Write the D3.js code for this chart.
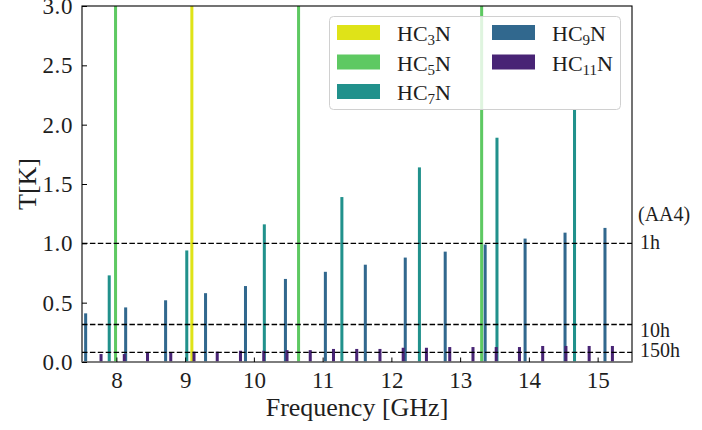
<!DOCTYPE html>
<html>
<head>
<meta charset="utf-8">
<script src="https://cdn.jsdelivr.net/npm/d3@7"></script>
<style>
  html, body { margin: 0; padding: 0; background: #fff; }
  svg { display: block; font-family: "Liberation Serif", "DejaVu Serif", serif; }
</style>
</head>
<body>
<svg id="chart" width="702" height="430"></svg>
<script>
// Cyanopolyyne rotational lines: frequency [GHz] and expected brightness T [K]
const hc3nFreq = [9.098];
const hc3nT    = [4.8];

const hc5nFreq = [7.988, 10.650, 13.313];
const hc5nT    = [3.9, 4.6, 4.2];

const hc7nFreq = [7.896, 9.024, 10.152, 11.280, 12.408, 13.536, 14.664];
const hc7nT    = [0.73, 0.94, 1.16, 1.39, 1.64, 1.89, 2.13];

const hc9nFreq = [7.553, 8.135, 8.716, 9.297, 9.878, 10.459, 11.040,
                  11.621, 12.202, 12.783, 13.364, 13.945, 14.526, 15.107];
const hc9nT    = [0.41, 0.46, 0.52, 0.58, 0.64, 0.70, 0.76,
                  0.82, 0.88, 0.93, 0.99, 1.04, 1.09, 1.13];

const hc11nFreq = [7.777, 8.115, 8.453, 8.791, 9.129, 9.467, 9.805, 10.144,
                   10.482, 10.820, 11.158, 11.496, 11.834, 12.172, 12.510,
                   12.849, 13.187, 13.525, 13.863, 14.201, 14.539, 14.877, 15.215];
const hc11nT    = [0.067, 0.067, 0.078, 0.078, 0.087, 0.087, 0.095, 0.095,
                   0.10, 0.10, 0.11, 0.11, 0.11, 0.12, 0.12,
                   0.126, 0.126, 0.126, 0.126, 0.135, 0.135, 0.135, 0.135];

// Sensitivity levels (AA4) for the given integration times
const sensLabels = ["1h", "10h", "150h"];
const sensLevels = [1.0, 0.316, 0.0816];

const xTicks = [8, 9, 10, 11, 12, 13, 14, 15];
const yTicks = [0.0, 0.5, 1.0, 1.5, 2.0, 2.5, 3.0];

const seriesNames  = ["3", "5", "7", "9", "11"];
const seriesColors = ["#dfe318", "#5ec962", "#21918c", "#31688e", "#482475"];

const series = [
  { sub: seriesNames[0], color: seriesColors[0], freq: hc3nFreq,  T: hc3nT },
  { sub: seriesNames[1], color: seriesColors[1], freq: hc5nFreq,  T: hc5nT },
  { sub: seriesNames[2], color: seriesColors[2], freq: hc7nFreq,  T: hc7nT },
  { sub: seriesNames[3], color: seriesColors[3], freq: hc9nFreq,  T: hc9nT },
  { sub: seriesNames[4], color: seriesColors[4], freq: hc11nFreq, T: hc11nT }
];

const textColor = "#1e1e1e";
const svg = d3.select("#chart");
const plot = { left: 82, right: 632, top: 6, bottom: 362 };

const x = d3.scaleLinear().domain([7.5, 15.5]).range([plot.left, plot.right]);
const y = d3.scaleLinear().domain([0, 3]).range([plot.bottom, plot.top]);
const barW = x(7.5 + 0.044) - x(7.5);

svg.append("defs").append("clipPath").attr("id", "plotClip")
  .append("rect")
  .attr("x", plot.left).attr("y", plot.top)
  .attr("width", plot.right - plot.left).attr("height", plot.bottom - plot.top);

// Bars
const barLayer = svg.append("g").attr("clip-path", "url(#plotClip)");
series.forEach(s => {
  barLayer.append("g").selectAll("rect")
    .data(s.freq.map((f, i) => ({ f, t: s.T[i] })))
    .join("rect")
    .attr("x", d => x(d.f) - barW / 2)
    .attr("y", d => y(d.t))
    .attr("width", barW)
    .attr("height", d => y(0) - y(d.t))
    .attr("fill", s.color);
});

// Sensitivity lines
svg.append("g").selectAll("line")
  .data(sensLevels)
  .join("line")
  .attr("x1", plot.left).attr("x2", plot.right)
  .attr("y1", d => y(d)).attr("y2", d => y(d))
  .attr("stroke", "#000")
  .attr("stroke-width", 1.3)
  .attr("stroke-dasharray", "5.5,2.4");

// Frame
svg.append("rect")
  .attr("x", plot.left).attr("y", plot.top)
  .attr("width", plot.right - plot.left).attr("height", plot.bottom - plot.top)
  .attr("fill", "none").attr("stroke", "#000").attr("stroke-width", 1.1);

// Zero line
svg.append("line")
  .attr("x1", plot.left).attr("x2", plot.right)
  .attr("y1", y(0)).attr("y2", y(0))
  .attr("stroke", "#808080").attr("stroke-width", 1.6);

// Y axis (inward ticks)
const yAxis = d3.axisLeft(y).tickValues(yTicks).tickFormat(d3.format(".1f"))
  .tickSizeInner(-5).tickSizeOuter(0).tickPadding(9);
const gy = svg.append("g").attr("transform", `translate(${plot.left},0)`).call(yAxis);
gy.select(".domain").remove();
gy.selectAll(".tick line").attr("stroke", "#000").attr("stroke-width", 1);
gy.selectAll(".tick text")
  .attr("font-family", "Liberation Serif, serif")
  .attr("font-size", 23).attr("letter-spacing", 0.6).attr("fill", textColor);

// X axis (inward ticks)
const xAxis = d3.axisBottom(x).tickValues(xTicks).tickFormat(d3.format("d"))
  .tickSizeInner(-4.5).tickSizeOuter(0).tickPadding(10);
const gx = svg.append("g").attr("transform", `translate(0,${plot.bottom})`).call(xAxis);
gx.select(".domain").remove();
gx.selectAll(".tick line").attr("stroke", "#000").attr("stroke-width", 1);
gx.selectAll(".tick text")
  .attr("font-family", "Liberation Serif, serif")
  .attr("font-size", 23).attr("fill", textColor);

// Axis titles
svg.append("text")
  .attr("x", (plot.left + plot.right) / 2).attr("y", 416)
  .attr("text-anchor", "middle").attr("font-size", 26).attr("fill", textColor)
  .text("Frequency [GHz]");

svg.append("text")
  .attr("transform", `translate(36,${(plot.top + plot.bottom) / 2}) rotate(-90)`)
  .attr("text-anchor", "middle").attr("font-size", 26).attr("fill", textColor)
  .text("T[K]");

// Sensitivity annotations on the right
const labelOffsets = [6, 12, 5];
svg.append("g").selectAll("text")
  .data(sensLevels)
  .join("text")
  .attr("x", 640)
  .attr("y", (d, i) => y(d) + labelOffsets[i])
  .attr("font-size", 20).attr("fill", textColor)
  .text((d, i) => sensLabels[i]);
svg.append("text")
  .attr("x", 638).attr("y", y(sensLevels[0]) - 22)
  .attr("font-size", 20).attr("fill", textColor)
  .text("(AA4)");

// Legend
const legend = svg.append("g");
legend.append("rect")
  .attr("x", 329.5).attr("y", 16.5).attr("width", 291).attr("height", 93)
  .attr("rx", 4).attr("ry", 4)
  .attr("fill", "#fff").attr("fill-opacity", 0.8)
  .attr("stroke", "#d0d0d0").attr("stroke-width", 1);

const perCol = 3, colX = [337, 492], rowY = [25, 54.5, 84];
series.forEach((s, i) => {
  const cx = colX[Math.floor(i / perCol)];
  const ry = rowY[i % perCol];
  legend.append("rect")
    .attr("x", cx).attr("y", ry).attr("width", 43).attr("height", 15)
    .attr("fill", s.color);
  const t = legend.append("text")
    .attr("x", cx + 60).attr("y", ry + 16)
    .attr("font-size", 22).attr("fill", textColor);
  t.append("tspan").text("HC");
  t.append("tspan").attr("font-size", 15).attr("dy", 4).text(s.sub);
  t.append("tspan").attr("dy", -4).text("N");
});
</script>
</body>
</html>
